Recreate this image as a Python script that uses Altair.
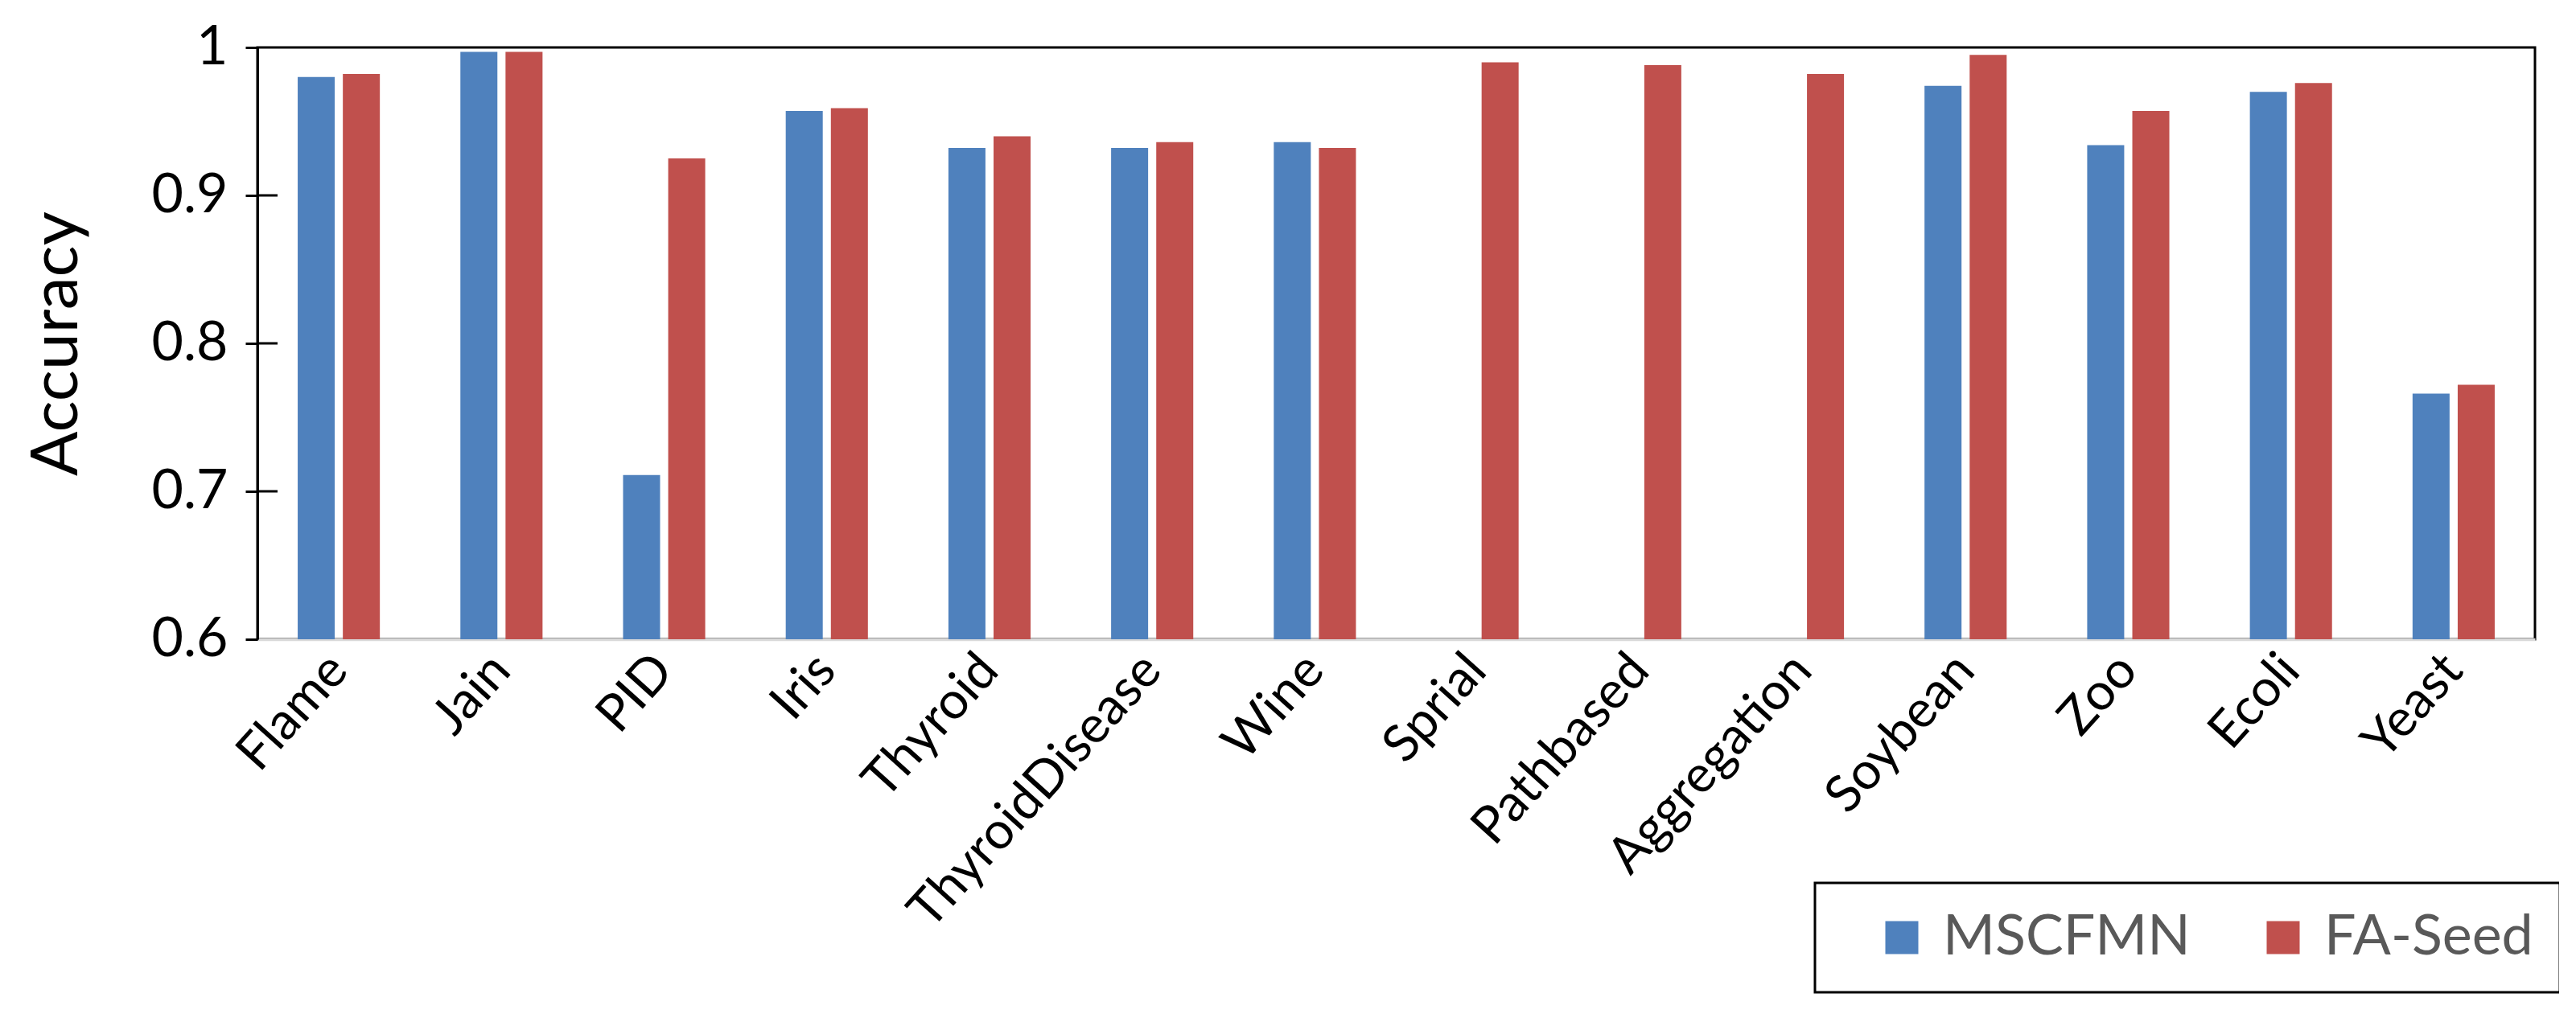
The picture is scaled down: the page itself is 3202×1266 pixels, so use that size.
import altair as alt
import pandas as pd

categories = ["Flame", "Jain", "PID", "Iris", "Thyroid", "ThyroidDisease", "Wine",
              "Sprial", "Pathbased", "Aggregation", "Soybean", "Zoo", "Ecoli", "Yeast"]
mscfmn = [0.980, 0.997, 0.711, 0.957, 0.932, 0.932, 0.936,
          None, None, None, 0.974, 0.934, 0.970, 0.766]
faseed = [0.982, 0.997, 0.925, 0.959, 0.940, 0.936, 0.932,
          0.990, 0.988, 0.982, 0.995, 0.957, 0.976, 0.772]
methods = ["MSCFMN", "FA-Seed"]
colors = ["#4F81BD", "#C0504D"]
y_ticks = [0.6, 0.7, 0.8, 0.9, 1.0]

rows = []
for c, a, b in zip(categories, mscfmn, faseed):
    rows.append({"dataset": c, "method": methods[0], "acc": a})
    rows.append({"dataset": c, "method": methods[1], "acc": b})
df = pd.DataFrame(rows)
ticks_df = pd.DataFrame({"v": [t for t in y_ticks if 0.6 < t < 1.0]})

FONT = "Lato"

y_scale = alt.Scale(domain=[0.6, 1.0], zero=False, nice=False, clamp=True)

bars = alt.Chart(df).mark_bar().encode(
    x=alt.X("dataset:N", sort=categories,
            scale=alt.Scale(paddingInner=0.495, paddingOuter=0.2475),
            axis=alt.Axis(title=None, labelAngle=-48, labelAlign="right",
                          labelBaseline="middle", labelFontSize=64, labelFont=FONT,
                          labelColor="black", labelPadding=28, ticks=False,
                          domainColor="#d9d9d9", domainWidth=3.5, labelLimit=800)),
    xOffset=alt.XOffset("method:N", sort=methods,
                        scale=alt.Scale(paddingInner=0.18, paddingOuter=0)),
    y=alt.Y("acc:Q", scale=y_scale,
            axis=alt.Axis(values=y_ticks, format="~g", labelFontSize=68, labelFont=FONT,
                          labelColor="black", labelPadding=22, tickSize=15,
                          tickColor="black", tickWidth=3, domainColor="black",
                          domainWidth=3, grid=False, title="Accuracy",
                          titleFontSize=82, titleFont=FONT, titleFontWeight="normal",
                          titleColor="black", titleX=-225, titleY=368, titleAngle=-90,
                          titleAlign="center", titleBaseline="alphabetic")),
    color=alt.Color("method:N", sort=methods,
                    scale=alt.Scale(domain=methods, range=colors),
                    legend=alt.Legend(orient="none", legendX=1936, legendY=1039,
                                      direction="horizontal", title=" ",
                                      titleOrient="left", titlePadding=40,
                                      titleFontSize=10,
                                      symbolType="square", symbolSize=1681,
                                      symbolStrokeWidth=0, symbolOpacity=1,
                                      labelFontSize=70, labelFont=FONT,
                                      labelColor="#595959", labelOffset=16,
                                      labelLimit=600, columnPadding=80, padding=33,
                                      strokeColor="black", fillColor="white")),
)

inner_ticks = alt.Chart(ticks_df).mark_rule(color="black", strokeWidth=3).encode(
    y=alt.Y("v:Q", scale=y_scale),
    x=alt.value(0),
    x2=alt.value(25),
)

chart = alt.layer(bars, inner_ticks).properties(
    width=2831,
    height=736,
    padding={"left": 312, "top": 51, "right": 30, "bottom": 460},
    autosize=alt.AutoSizeParams(type="none"),
    background="white",
).configure_view(
    stroke="black", strokeWidth=3
).configure_legend(
    strokeWidth=3
)

chart.save("out.html", embed_options={"renderer": "svg", "actions": False})
